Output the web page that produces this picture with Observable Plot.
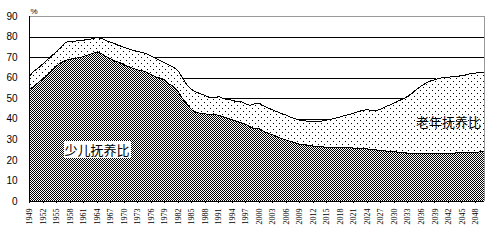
<!DOCTYPE html>
<html><head><meta charset="utf-8">
<script src="https://cdn.jsdelivr.net/npm/d3@7"></script>
<script src="https://cdn.jsdelivr.net/npm/@observablehq/plot@0.6"></script>
<style>body{margin:0;background:#fff} svg{display:block}</style>
</head><body><div id="chart"></div>
<script>
const startYear = 1949;
// 少儿抚养比 (child dependency ratio, %), 1949-2050
const childRatio = [
54.5,56,58,59.7,61.5,64,66,67.5,68.6,69.2,
69.6,70,70.5,71.3,72,72.8,71.8,70.5,69.5,68.2,
67.6,66.5,65.6,64.8,64,63.7,62.8,61.8,60.6,60,
59.2,57.2,56,53.5,50,47.3,44.5,43.4,42.9,42.6,
42.3,42.6,41.8,41.3,40.5,39.8,39,38.4,37.5,36.3,
35.3,35.5,34,33.2,32.4,31.5,30.6,29.9,29.2,28.5,
27.9,27.6,27.3,27,26.8,26.6,26.4,26.3,26.2,26.1,
26.1,26.1,26,25.9,25.7,25.6,25.3,25.1,24.8,24.6,
24.4,24.2,24,23.8,23.5,23.3,23.2,23.2,23.2,23.2,
23.2,23.2,23.3,23.4,23.5,23.7,23.8,23.9,24,24,
24.1,24.1];
// 老年抚养比 (old-age dependency ratio, %), 1949-2050
const oldRatio = [
6.5,7.5,7,7.3,7.5,7,7,7.5,8.9,8.6,
8.4,8.2,8,7.5,7.2,7,7.5,7.8,8,8.5,
8.2,8.5,8.7,8.7,9,8.8,9,9,9,8.5,
8.3,9.1,9.3,10,10,9.2,10,9.8,9.5,8.9,
8.3,7.8,9.2,8.9,9,9.5,9.5,10.2,10,10.5,
12.2,12.3,12.5,12.3,12.1,12.1,12.2,12.1,11.8,11.8,
11.6,11.7,11.7,11.8,12,12.6,13.2,13.7,14.4,15.1,
15.7,16.3,17,17.8,18.7,19,19.1,19.2,20.2,21.5,
22.6,23.9,25.1,26.1,27.8,29.5,31.4,33.1,34.4,35.4,
36.1,36.8,37,37.1,37.2,37.2,37.4,37.8,38.2,38.5,
38.6,38.5];
const xTickYears = [1949,1952,1955,1958,1961,1964,1967,1970,1973,1976,1979,1982,1985,1988,1991,1994,1997,2000,2003,2006,2009,2012,2015,2018,2021,2024,2027,2030,2033,2036,2039,2042,2045,2048];
const yTicks = [0,10,20,30,40,50,60,70,80,90];
const seriesLabels = [
  {name:"少儿抚养比", year:1964, value:24.8, box:true},
  {name:"老年抚养比", year:2042, value:38.2, box:false}
];

const data = childRatio.map((c,i)=>({year:startYear+i, child:c, total:c+oldRatio[i]}));

const chart = Plot.plot({
  width:497, height:246, marginLeft:29, marginRight:13, marginTop:16, marginBottom:45,
  style:{fontFamily:"'Liberation Sans', Arial, sans-serif", background:"white", color:"black"},
  x:{domain:[1949,2050], axis:null, label:null},
  y:{domain:[0,90], axis:null, label:null},
  marks:[
    Plot.ruleY(yTicks.filter(d=>d>0 && d<90), {stroke:"black"}),
    Plot.ruleY([90], {stroke:"#999"}),
    Plot.areaY(data,{x:"year", y1:"child", y2:"total", fill:"url(#dots)"}),
    Plot.areaY(data,{x:"year", y1:0, y2:"child", fill:"url(#checker)"}),
    Plot.lineY(data,{x:"year", y:"total", stroke:"black", strokeWidth:1}),
    Plot.lineY(data,{x:"year", y:"child", stroke:"black", strokeWidth:1}),
    Plot.ruleX([2050], {stroke:"#999"}),
    Plot.ruleX([1949], {stroke:"black"}),
    Plot.ruleY([0], {stroke:"black"}),
    Plot.axisY(yTicks, {tickSize:0, tickPadding:12, fontSize:10, label:null, tickFormat:d=>String(d)}),
    Plot.axisX(xTickYears, {tickRotate:-90, tickSize:2, tickPadding:5, fontSize:8, label:null, fontFamily:"'Liberation Serif', serif", tickFormat:d=>String(d)}),
    Plot.text(["%"], {frameAnchor:"top-left", dy:-8, dx:1, fontSize:8}),
    Plot.text(seriesLabels, {x:"year", y:"value", text:"name", fontSize:13, fontFamily:"'Noto Sans CJK SC'", fill:"black"})
  ]
});

const defs = document.createElementNS("http://www.w3.org/2000/svg","defs");
defs.innerHTML = `
<pattern id="checker" width="2" height="2" patternUnits="userSpaceOnUse">
  <rect width="2" height="2" fill="white"/>
  <rect x="0" y="0" width="1" height="1" fill="black"/>
  <rect x="1" y="1" width="1" height="1" fill="black"/>
</pattern>
<pattern id="dots" width="6" height="6" patternUnits="userSpaceOnUse">
  <rect width="6" height="6" fill="white"/>
  <rect x="0" y="0" width="1" height="1" fill="black"/>
  <rect x="3" y="3" width="1" height="1" fill="black"/>
</pattern>`;
chart.insertBefore(defs, chart.firstChild);
chart.setAttribute("shape-rendering","crispEdges");
document.getElementById("chart").appendChild(chart);

const boxedNames = seriesLabels.filter(d=>d.box).map(d=>d.name);
chart.querySelectorAll("text").forEach(t=>{
  if (!boxedNames.includes(t.textContent.trim())) return;
  const b = t.getBBox();
  const r = document.createElementNS("http://www.w3.org/2000/svg","rect");
  r.setAttribute("x", b.x-1); r.setAttribute("y", b.y+1);
  r.setAttribute("width", b.width+2); r.setAttribute("height", b.height-2);
  r.setAttribute("fill","white");
  if (t.getAttribute("transform")) r.setAttribute("transform", t.getAttribute("transform"));
  t.parentNode.insertBefore(r, t);
});
</script>
</body></html>
